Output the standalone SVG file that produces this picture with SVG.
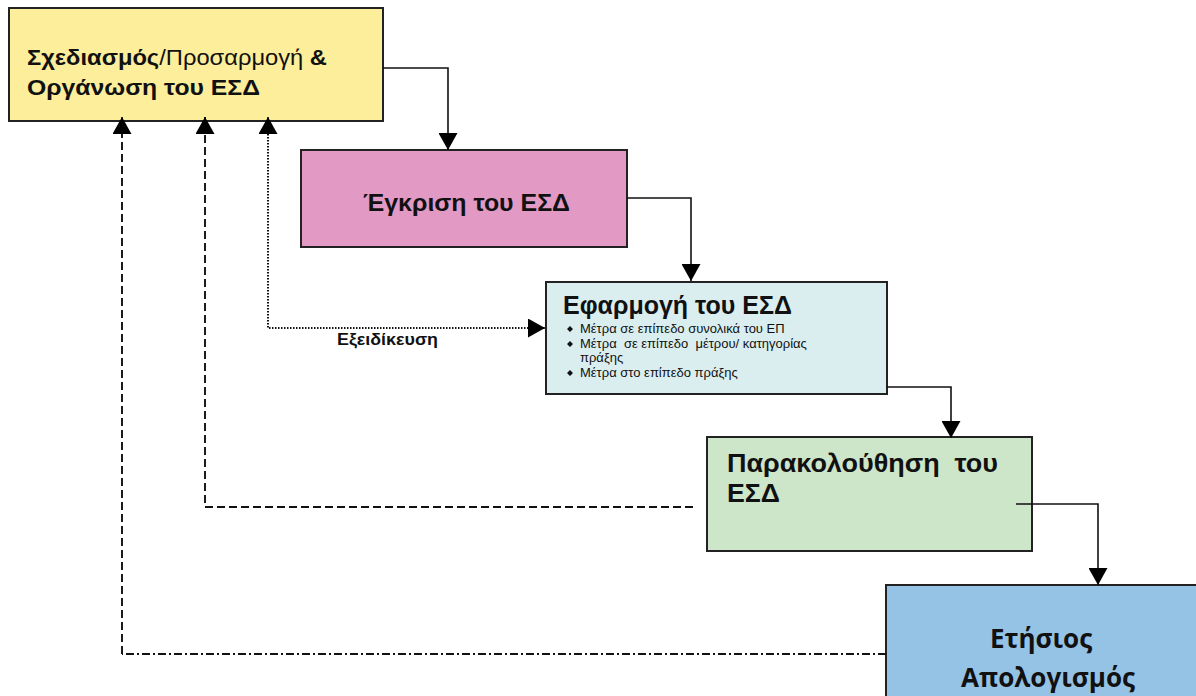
<svg xmlns="http://www.w3.org/2000/svg" width="1196" height="696" viewBox="0 0 1196 696">
<style>
.box{stroke:#222;stroke-width:2}
.t{font-family:"Liberation Sans",Arial,sans-serif;font-weight:bold;fill:#111}
.n{font-weight:normal}
.s{font-family:"Liberation Sans",Arial,sans-serif;font-size:13px;fill:#111}
.c{fill:none;stroke:#111;stroke-width:1.6}
.dash{stroke-dasharray:8 4;stroke-width:1.9}
.dd{stroke-dasharray:8 3 2 3;stroke-width:1.9}
.dot{stroke-dasharray:1.5 1.5;stroke-width:2}
.b{font-family:"Open Sans","Noto Sans",sans-serif}
</style>
<defs>
<marker id="ah" markerUnits="userSpaceOnUse" markerWidth="17" markerHeight="19" viewBox="0 0 17 19" refX="17" refY="9.5" orient="auto">
<path d="M0,0 L17,9.5 L0,19 z" fill="#000"/>
</marker>
</defs>
<rect width="1196" height="696" fill="#fff"/>
<g id="node-plan">
<rect class="box" x="9" y="8" width="374" height="113" fill="#FCEE9A"/>
<text class="t" x="27" y="65" font-size="22" textLength="300" lengthAdjust="spacingAndGlyphs">Σχεδιασμός<tspan class="n">/Προσαρμογή</tspan> &amp;</text>
<text class="t" x="27" y="95" font-size="22" textLength="233" lengthAdjust="spacingAndGlyphs">Οργάνωση του ΕΣΔ</text>
</g>
<g id="node-approval">
<rect class="box" x="301" y="150" width="326" height="97" fill="#E29AC4"/>
<text class="t" x="363" y="211" font-size="23" textLength="207" lengthAdjust="spacingAndGlyphs">Έγκριση του ΕΣΔ</text>
</g>
<g id="node-implementation">
<rect class="box" x="546" y="282" width="341" height="112" fill="#DAEEF0"/>
<text class="t" x="563" y="314" font-size="25">Εφαρμογή του ΕΣΔ</text>
<g class="s">
<path d="M567,329 l3,-3 l3,3 l-3,3 z M567,344 l3,-3 l3,3 l-3,3 z M567,373 l3,-3 l3,3 l-3,3 z" fill="#111"/>
<text x="580" y="333">Μέτρα σε επίπεδο συνολικά του ΕΠ</text>
<text x="580" y="348" xml:space="preserve">Μέτρα  σε επίπεδο  μέτρου/ κατηγορίας</text>
<text x="580" y="362">πράξης</text>
<text x="580" y="377">Μέτρα στο επίπεδο πράξης</text>
</g>
</g>
<g id="node-monitoring">
<rect class="box" x="707" y="437" width="325" height="114" fill="#CDE5C9"/>
<text class="t" x="727" y="472" font-size="25" xml:space="preserve" textLength="271" lengthAdjust="spacingAndGlyphs">Παρακολούθηση  του</text>
<text class="t" x="727" y="502" font-size="25" textLength="53" lengthAdjust="spacingAndGlyphs">ΕΣΔ</text>
</g>
<g id="node-annual">
<rect class="box" x="886" y="585" width="320" height="120" fill="#95C3E6"/>
<text class="t b" x="1041" y="648" font-size="26" text-anchor="middle">Ετήσιος</text>
<text class="t b" x="1048" y="687" font-size="26" text-anchor="middle">Απολογισμός</text>
</g>
<g id="connectors">
<path class="c" d="M383,68 H448 V150" marker-end="url(#ah)"/>
<path class="c" d="M627,198 H691 V281" marker-end="url(#ah)"/>
<path class="c" d="M887,387 H951 V438" marker-end="url(#ah)"/>
<path class="c" d="M1016,504 H1098 V585" marker-end="url(#ah)"/>
<path class="c dash" d="M693,507 H205 V117"/>
<path class="c dd" d="M886,654 H122"/>
<path class="c dash" d="M122,654 V117"/>
<path class="c dot" d="M268,134 V328 H545"/>
<path class="c" d="M268,134 V117" marker-end="url(#ah)"/>
<path class="c" d="M205,134 V117" marker-end="url(#ah)"/>
<path class="c" d="M122,134 V117" marker-end="url(#ah)"/>
<path class="c" d="M530,328 H545" marker-end="url(#ah)"/>
<text class="t" x="337" y="345" font-size="16" textLength="101" lengthAdjust="spacingAndGlyphs">Εξειδίκευση</text>
</g>
</svg>
